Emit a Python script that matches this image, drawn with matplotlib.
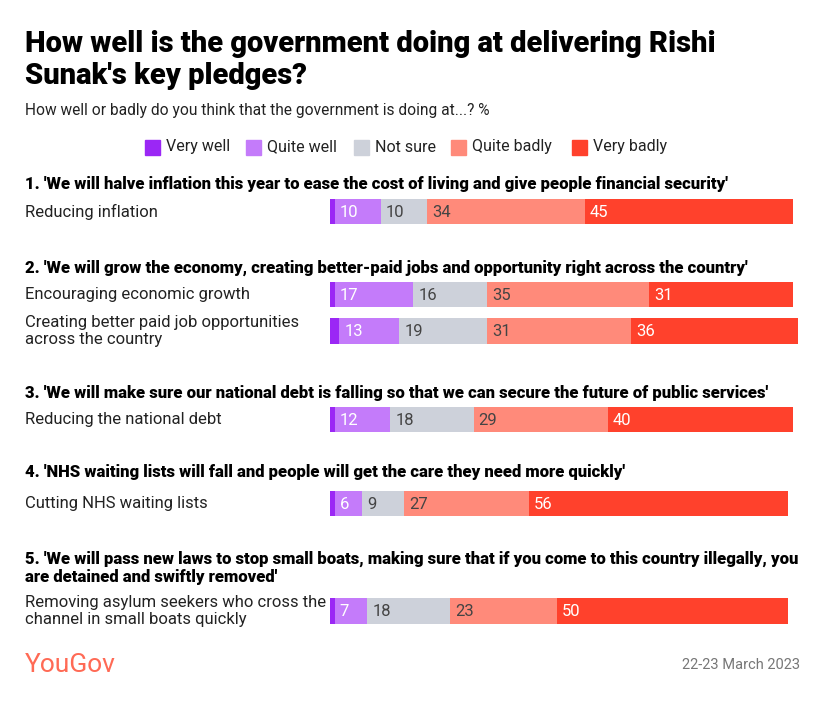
import matplotlib.pyplot as plt
from matplotlib.patches import Rectangle

plt.rcParams['font.family'] = ['Roboto', 'DejaVu Sans']

# categories and values
series = ['Very well', 'Quite well', 'Not sure', 'Quite badly', 'Very badly']
colors = ['#9B27F5', '#C47BFA', '#CDD1DA', '#FF8A7A', '#FF412C']
label_colors = ['white', 'white', '#444444', '#444444', 'white']

rows = ['Reducing inflation',
        'Encouraging economic growth',
        'Creating better paid job opportunities\nacross the country',
        'Reducing the national debt',
        'Cutting NHS waiting lists',
        'Removing asylum seekers who cross the\nchannel in small boats quickly']

very_well = [1, 1, 2, 1, 1, 1]
quite_well = [10, 17, 13, 12, 6, 7]
not_sure = [10, 16, 19, 18, 9, 18]
quite_badly = [34, 35, 31, 29, 27, 23]
very_badly = [45, 31, 36, 40, 56, 50]
values = [very_well, quite_well, not_sure, quite_badly, very_badly]

headers = ["1. 'We will halve inflation this year to ease the cost of living and give people financial security'",
           "2. 'We will grow the economy, creating better-paid jobs and opportunity right across the country'",
           "3. 'We will make sure our national debt is falling so that we can secure the future of public services'",
           "4. 'NHS waiting lists will fall and people will get the care they need more quickly'",
           "5. 'We will pass new laws to stop small boats, making sure that if you come to this country illegally, you\nare detained and swiftly removed'"]

# layout in pixels
W, H = 830, 705
row_y = [211.5, 294.5, 331, 419.5, 503.5, 611]
header_y = [184, 268, 393, 472, 568]


def fx(p):
    return p / W


def fy(p):
    return 1 - p / H


fig = plt.figure(figsize=(W / 100, H / 100), dpi=100)
fig.patch.set_facecolor('white')

# 4.63 px per percent, a little room past 100 for rows that sum to 101
ax = fig.add_axes([fx(330), 0, fx(463 * 1.05), 1])
ax.set_xlim(0, 105)
ax.set_ylim(H, 0)
ax.axis('off')

left = [0] * len(rows)
for s in range(len(series)):
    ax.barh(row_y, values[s], left=left, height=25.5, color=colors[s], linewidth=0)
    if s > 0:
        for i, v in enumerate(values[s]):
            ax.text(left[i] + 1.1, row_y[i] + 1, str(v), color=label_colors[s],
                    fontsize=12, va='center', ha='left')
    left = [a + b for a, b in zip(left, values[s])]

# title & subtitle
fig.text(fx(25), fy(60), "How well is the government doing at delivering Rishi\nSunak's key pledges?",
         fontsize=21, fontweight='black', va='center', ha='left', linespacing=1.15, color='black')
fig.text(fx(25), fy(111), "How well or badly do you think that the government is doing at...? %",
         fontsize=11.2, va='center', ha='left', color='#222222')

# legend
leg_x = [145, 246, 354, 451, 572]
for s in range(len(series)):
    fig.patches.append(Rectangle((fx(leg_x[s]), fy(155)), fx(15), 15 / H,
                                 transform=fig.transFigure, color=colors[s]))
    fig.text(fx(leg_x[s] + 21), fy(147), series[s], fontsize=11.5, va='center', ha='left', color='#222222')

for i, h in enumerate(headers):
    fig.text(fx(25), fy(header_y[i]), h, fontsize=12, fontweight='black', va='center', ha='left',
             linespacing=1.2, color='black')

for i, r in enumerate(rows):
    fig.text(fx(25), fy(row_y[i]), r, fontsize=12, va='center', ha='left', linespacing=1.2, color='#222222')

fig.text(fx(25), fy(665), 'YouGov', fontsize=19, color='#FF6A55', va='center', ha='left')
fig.text(fx(800), fy(665), '22-23 March 2023', fontsize=10.5, color='#777777', va='center', ha='right')

fig.savefig('out.png', dpi=100)
